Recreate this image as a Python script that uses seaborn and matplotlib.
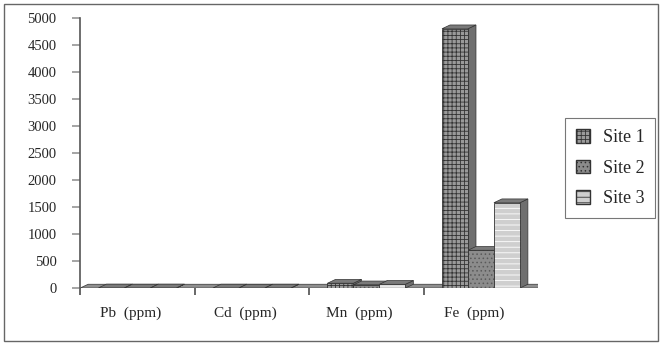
import matplotlib
matplotlib.use("Agg")
import matplotlib.pyplot as plt
from matplotlib.patches import Polygon, Rectangle, Patch
import seaborn as sns
import pandas as pd

categories = ["Pb (ppm)", "Cd (ppm)", "Mn (ppm)", "Fe (ppm)"]
sites = ["Site 1", "Site 2", "Site 3"]
site1 = [3, 2, 90, 4800]
site2 = [2, 1, 60, 700]
site3 = [3, 2, 70, 1580]
yticks = [0, 500, 1000, 1500, 2000, 2500, 3000, 3500, 4000, 4500, 5000]

rows = []
for s, vals in zip(sites, [site1, site2, site3]):
    for c, v in zip(categories, vals):
        rows.append({"cat": c, "site": s, "val": v})
df = pd.DataFrame(rows)

sns.set_theme(style="white")
plt.rcParams["font.family"] = ["Liberation Serif", "DejaVu Serif"]
plt.rcParams["hatch.linewidth"] = 0.6

fig = plt.figure(figsize=(6.62, 3.45), dpi=100)
ax = fig.add_axes([0.121, 0.165, 0.692, 0.783])

face = {"Site 1": "#9a9a9a", "Site 2": "#8c8c8c", "Site 3": "#cfcfcf"}
hatch = {"Site 1": "++++", "Site 2": "....", "Site 3": "---"}
hcol = {"Site 1": "#333333", "Site 2": "#5a5a5a", "Site 3": "#ffffff"}

sns.barplot(data=df, x="cat", y="val", hue="site", order=categories,
            hue_order=sites, palette=face, width=0.68, ax=ax,
            legend=False, saturation=1, linewidth=0.6, edgecolor="#333333")

ax.set_xlim(-0.5, 3.5)
ax.set_ylim(0, 5000)

# floor
dx, dy = 0.07, 70
floor = Polygon([(-0.5, 0), (3.5, 0), (3.5 + dx, dy), (-0.5 + dx, dy)],
                closed=True, facecolor="#8f8f8f", edgecolor="#444444",
                linewidth=0.6, zorder=1)
ax.add_patch(floor)

bars = [b for b in list(ax.patches) if b is not floor]
for i, b in enumerate(bars):
    site = sites[i // len(categories)]
    b.set_hatch(hatch[site])
    b._hatch_color = matplotlib.colors.to_rgba(hcol[site])
    b.set_zorder(3)
    x0, y0 = b.get_x(), b.get_y()
    w, h = b.get_width(), b.get_height()
    side = Polygon([(x0 + w, y0), (x0 + w + dx, y0 + dy), (x0 + w + dx, y0 + h + dy), (x0 + w, y0 + h)],
                   closed=True, facecolor="#6f6f6f", edgecolor="#333333", linewidth=0.5, zorder=2.5)
    top = Polygon([(x0, y0 + h), (x0 + dx, y0 + h + dy), (x0 + w + dx, y0 + h + dy), (x0 + w, y0 + h)],
                  closed=True, facecolor="#7a7a7a", edgecolor="#333333", linewidth=0.5, zorder=2.5)
    ax.add_patch(side)
    ax.add_patch(top)

ax.set_yticks(yticks)
ax.set_yticklabels([str(t) for t in yticks], fontsize=10.5)
ax.set_xticks([-0.5, 0.5, 1.5, 2.5])
ax.set_xticklabels([])
for i, c in enumerate(categories):
    ax.text(i - 0.06, -0.095, c.replace(" ", "  "), transform=ax.get_xaxis_transform(),
            ha="center", va="center", fontsize=11)
ax.set_xlabel("")
ax.set_ylabel("")
for s in ["top", "right", "bottom"]:
    ax.spines[s].set_visible(False)
ax.spines["left"].set_color("#555555")
ax.spines["left"].set_linewidth(1.2)
ax.tick_params(axis="y", which="both", left=True, length=6, color="#999999", pad=11)
ax.tick_params(axis="x", which="both", bottom=True, length=5, color="#555555")

handles = [Patch(facecolor=face[s], hatch=hatch[s], edgecolor="#333333", label=s) for s in sites]
leg = fig.legend(handles=handles, loc="upper left", bbox_to_anchor=(0.853, 0.658),
                 borderaxespad=0, frameon=True, fontsize=13, handlelength=0.8, handleheight=0.8,
                 handletextpad=0.7, borderpad=0.6, labelspacing=0.75, fancybox=False)
leg.get_frame().set_edgecolor("#555555")
leg.get_frame().set_linewidth(0.8)

fig.patches.append(Rectangle((0.006, 0.012), 0.988, 0.976, transform=fig.transFigure,
                             fill=False, edgecolor="#666666", linewidth=1.0))

fig.savefig("out.png", dpi=100)
